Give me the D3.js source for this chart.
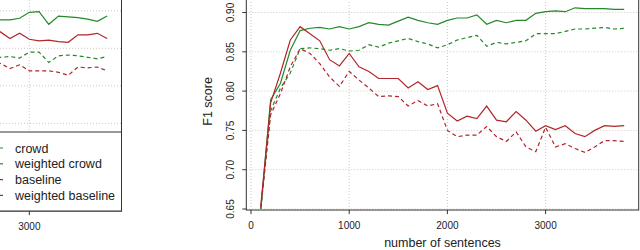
<!DOCTYPE html>
<html>
<head>
<meta charset="utf-8">
<title>F1 score vs number of sentences</title>
<script src="https://cdn.jsdelivr.net/npm/d3@7/dist/d3.min.js"></script>
<style>
  body { margin: 0; background: #fff; }
  svg { display: block; font-family: "Liberation Sans", Arial, sans-serif; }
  .grid line { stroke: #cdc9bd; stroke-dasharray: 1,2; stroke-width: 1; }
  .box { fill: none; stroke: #333; stroke-width: 1; }
  .tick-lbl { font-size: 10px; fill: #222; }
</style>
</head>
<body>
<div id="chart"></div>
<script>
// right panel (full)
var sizes = [100,200,300,400,500,600,700,800,900,1000,1100,1200,1300,1400,1500,1600,1700,1800,1900,
             2000,2100,2200,2300,2400,2500,2600,2700,2800,2900,3000,3100,3200,3300,3400,3500,3600,3700,3800];
var crowd = [0.650,0.775,0.804,0.823,0.854,0.855,0.854,0.852,0.854,0.851,0.852,0.859,0.856,0.861,0.864,0.867,0.863,0.860,0.855,
             0.859,0.865,0.868,0.871,0.857,0.862,0.860,0.862,0.864,0.873,0.873,0.873,0.876,0.879,0.879,0.880,0.881,0.879,0.880];
var weightedCrowd = [0.650,0.789,0.810,0.852,0.877,0.880,0.881,0.879,0.882,0.879,0.882,0.887,0.885,0.884,0.889,0.894,0.890,0.887,0.885,
             0.890,0.893,0.893,0.897,0.885,0.890,0.887,0.890,0.890,0.899,0.901,0.902,0.901,0.906,0.905,0.905,0.905,0.904,0.904];
var baseline = [0.652,0.770,0.797,0.831,0.854,0.848,0.835,0.818,0.806,0.825,0.814,0.804,0.793,0.794,0.793,0.781,0.788,0.781,0.784,
             0.750,0.742,0.744,0.744,0.755,0.742,0.736,0.748,0.729,0.723,0.754,0.729,0.733,0.727,0.722,0.729,0.737,0.737,0.736];
var weightedBaseline = [0.655,0.785,0.823,0.865,0.882,0.873,0.864,0.840,0.832,0.848,0.831,0.825,0.816,0.816,0.816,0.804,0.812,0.802,0.807,
             0.772,0.762,0.768,0.765,0.781,0.763,0.761,0.774,0.763,0.749,0.756,0.751,0.756,0.746,0.742,0.750,0.756,0.755,0.756];

// left panel (only its right end is in the picture)
var leftSizes = [2600,2700,2800,2900,3000,3100,3200,3300,3400,3500,3600,3700,3800];
var leftCrowd = [0.836,0.838,0.839,0.837,0.845,0.845,0.831,0.840,0.841,0.840,0.838,0.836,0.839];
var leftWeightedCrowd = [0.888,0.888,0.888,0.890,0.898,0.899,0.882,0.893,0.892,0.891,0.889,0.886,0.893];
var leftBaseline = [0.826,0.830,0.823,0.828,0.820,0.820,0.820,0.818,0.814,0.825,0.824,0.825,0.820];
var leftWeightedBaseline = [0.866,0.872,0.863,0.870,0.862,0.860,0.861,0.859,0.858,0.868,0.868,0.870,0.863];

var xTicks = [0, 1000, 2000, 3000];
var yTicks = [0.65, 0.70, 0.75, 0.80, 0.85, 0.90];
var legendLabels = ["crowd", "weighted crowd", "baseline", "weighted baseline"];

var green = "#23892a", red = "#b0262a";
var styles = [
  {color: green, dash: "4,3"},
  {color: green, dash: null},
  {color: red, dash: "4,3"},
  {color: red, dash: null}
];

var svg = d3.select("#chart").append("svg")
    .attr("width", 640)
    .attr("height", 250);

var xlim = [-48, 3948];

function panel(id, xRange, yRange, yBox, xs, series, showY) {
  var x = d3.scaleLinear().domain(xlim).range(xRange);
  var y = d3.scaleLinear().domain([0.65, 0.90]).range(yRange);
  var g = svg.append("g");

  g.append("clipPath").attr("id", id)
    .append("rect")
      .attr("x", xRange[0]).attr("y", y(yBox[1]))
      .attr("width", xRange[1] - xRange[0])
      .attr("height", y(yBox[0]) - y(yBox[1]));

  // grid
  var grid = g.append("g").attr("class", "grid");
  grid.selectAll("line.v").data(xTicks).enter().append("line")
    .attr("x1", d => x(d)).attr("x2", d => x(d))
    .attr("y1", y(yBox[0])).attr("y2", y(yBox[1]));
  grid.selectAll("line.h").data(yTicks).enter().append("line")
    .attr("y1", d => y(d)).attr("y2", d => y(d))
    .attr("x1", xRange[0]).attr("x2", xRange[1]);

  // lines
  var line = d3.line().x((d, i) => x(xs[i])).y(d => y(d));
  var lg = g.append("g").attr("clip-path", "url(#" + id + ")");
  series.forEach(function(s, i) {
    lg.append("path")
      .attr("d", line(s))
      .attr("fill", "none")
      .attr("stroke", styles[i].color)
      .attr("stroke-width", 1.2)
      .attr("stroke-dasharray", styles[i].dash);
  });

  // box
  g.append("rect").attr("class", "box")
    .attr("x", xRange[0]).attr("y", y(yBox[1]))
    .attr("width", xRange[1] - xRange[0])
    .attr("height", y(yBox[0]) - y(yBox[1]));

  // x axis (only ticks that fall inside the picture)
  var bottom = y(yBox[0]);
  var shown = xTicks.filter(d => x(d) > 12);
  g.selectAll("line.xt").data(shown).enter().append("line")
    .attr("x1", d => x(d)).attr("x2", d => x(d))
    .attr("y1", bottom).attr("y2", bottom + 4)
    .attr("stroke", "#333");
  g.selectAll("text.xl").data(shown).enter().append("text")
    .attr("class", "tick-lbl")
    .attr("x", d => x(d)).attr("y", bottom + 19)
    .attr("text-anchor", "middle")
    .text(d => d);

  if (showY) {
    g.selectAll("line.yt").data(yTicks).enter().append("line")
      .attr("x1", xRange[0] - 4).attr("x2", xRange[0])
      .attr("y1", d => y(d)).attr("y2", d => y(d))
      .attr("stroke", "#333");
    g.selectAll("text.yl").data(yTicks).enter().append("text")
      .attr("class", "tick-lbl")
      .attr("transform", d => "translate(" + (xRange[0] - 12) + "," + y(d) + ") rotate(-90)")
      .attr("text-anchor", "middle")
      .text(d => d3.format(".2f")(d));
    g.append("text")
      .attr("transform", "translate(" + (xRange[0] - 34) + "," + ((y(yBox[0]) + y(yBox[1])) / 2) + ") rotate(-90)")
      .attr("text-anchor", "middle")
      .attr("font-size", 12.5).attr("fill", "#222")
      .text("F1 score");
    g.append("text")
      .attr("x", (xRange[0] + xRange[1]) / 2).attr("y", 246.5)
      .attr("text-anchor", "middle")
      .attr("font-size", 12.5).attr("fill", "#222")
      .text("number of sentences");
  }
  return {x: x, y: y, g: g};
}

// left panel, mostly off-canvas
var left = panel("clipL", [-267, 121.5], [198.3, 10.8], [0.633, 0.93], leftSizes,
  [leftCrowd, leftWeightedCrowd, leftBaseline, leftWeightedBaseline], false);

// legend in the left panel (bottom right)
var leg = left.g.append("g");
leg.append("rect")
  .attr("x", -60).attr("y", 132)
  .attr("width", 181.5).attr("height", 79)
  .attr("fill", "#fff").attr("stroke", "#333");
legendLabels.forEach(function(lab, i) {
  var ly = 148 + i * 15.8;
  leg.append("line")
    .attr("x1", -22).attr("x2", 3)
    .attr("y1", ly).attr("y2", ly)
    .attr("stroke", styles[i].color)
    .attr("stroke-width", 1.2)
    .attr("stroke-dasharray", styles[i].dash);
  leg.append("text")
    .attr("x", 15).attr("y", ly + 4.5)
    .attr("font-size", 12.5).attr("fill", "#222")
    .text(lab);
});

// right panel
panel("clipR", [246.3, 638.7], [209, 12.5], [0.6487, 0.925], sizes,
  [crowd, weightedCrowd, baseline, weightedBaseline], true);
</script>
</body>
</html>
